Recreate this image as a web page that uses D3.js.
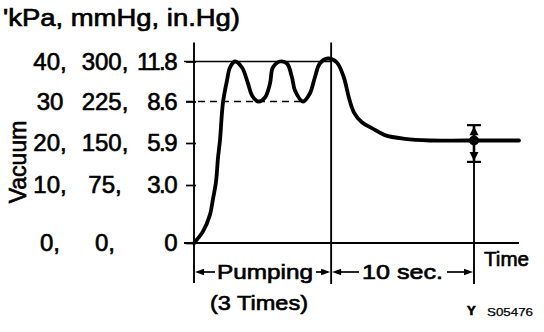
<!DOCTYPE html>
<html><head><meta charset="utf-8">
<script src="https://cdn.jsdelivr.net/npm/d3@7/dist/d3.min.js"></script>
<style>
html,body{margin:0;padding:0;background:#fff;}
svg{display:block;}
text{font-family:"Liberation Sans",Arial,Helvetica,sans-serif;fill:#000;stroke:#000;stroke-width:0.65px;}
</style></head><body>
<svg id="c" width="544" height="332"></svg>
<script>
// ---- data ----
const tickKPa = [0, 10, 20, 30, 40];
const tickKPaLabel = ["0,", "10,", "20,", "30", "40,"];
const tickMmHgLabel = ["0,", "75,", "150,", "225,", "300,"];
const tickInHgLabel = ["0", "3.0", "5.9", "8.6", "11.8"];

// vacuum trace: time (s) vs vacuum (kPa)
const curveTime = [0, 0.63, 1.12, 1.33, 1.54, 1.68, 1.82, 2.03, 2.31, 2.52, 2.87,
  3.36, 3.78, 4.06, 4.48, 4.97, 5.32, 5.52, 6.02, 6.51, 6.86, 7.07, 7.63,
  8.11, 8.46, 8.81, 9.37, 10.0, 10.49, 10.84, 11.19, 11.75, 12.45, 13.36,
  14.76, 16.5, 19.0, 22.75];
const curveVacuum = [0, 2.0, 4.9, 7.6, 10.75, 16.5, 20.7, 29.8, 35.25, 38.5, 40,
  38.5, 34.5, 31.5, 30, 31, 34.5, 38.5, 40, 39.5, 36, 32.75, 30,
  32, 36, 39.5, 40.75, 39.75, 36, 31, 27.4, 25, 23.6, 21.9,
  21.0, 20.6, 20.6, 20.6];

const pumpEnd = 9.6;        // end of 3 pumps (s)
const waitEnd = 19.6;       // pumpEnd + 10 s
const timeMax = 22.75;
const upperLimit = 40;      // kPa
const lowerLimit = 30;      // kPa
const lastDipTime = 7.63;
const settleValue = 20.6;
const settleRange = [15.5, 24.3];

// ---- scales ----
const x = d3.scaleLinear().domain([0, timeMax]).range([194, 519]);
const y = d3.scaleLinear().domain(tickKPa).range([243, 185, 143, 101.5, 61.5]);

const svg = d3.select("#c");

// axis ticks via d3.axisLeft
const yAxis = d3.axisLeft(y).tickValues(tickKPa).tickSizeInner(10).tickSizeOuter(0).tickFormat("");
const gA = svg.append("g").attr("transform", `translate(${x(0)+2},0)`).call(yAxis);
gA.select(".domain").remove();
gA.selectAll(".tick line").attr("stroke", "#000").attr("stroke-width", 1.7);

// vertical reference lines
svg.append("line").attr("x1", x(0)).attr("x2", x(0)).attr("y1", y(40) - 19).attr("y2", y(0) + 40)
  .attr("stroke", "#000").attr("stroke-width", 1.9);
svg.append("line").attr("x1", x(pumpEnd)).attr("x2", x(pumpEnd)).attr("y1", y(40) - 19).attr("y2", y(0) + 41)
  .attr("stroke", "#000").attr("stroke-width", 1.9);
svg.append("line").attr("x1", x(waitEnd)).attr("x2", x(waitEnd)).attr("y1", y(settleRange[1])).attr("y2", y(0) + 41)
  .attr("stroke", "#000").attr("stroke-width", 1.9);

// baseline
svg.append("line").attr("x1", x(0) - 10).attr("x2", x(timeMax)).attr("y1", y(0)).attr("y2", y(0))
  .attr("stroke", "#000").attr("stroke-width", 2.2);

// upper limit solid line, lower limit dashed line
svg.append("line").attr("x1", x(0) - 10).attr("x2", x(pumpEnd)).attr("y1", y(upperLimit)).attr("y2", y(upperLimit))
  .attr("stroke", "#000").attr("stroke-width", 1.7);
svg.append("line").attr("x1", x(0) - 8).attr("x2", x(lastDipTime)).attr("y1", y(lowerLimit)).attr("y2", y(lowerLimit))
  .attr("stroke", "#000").attr("stroke-width", 1.3).attr("stroke-dasharray", "7,5");

// curve
const pts = curveTime.map((t, i) => [t, curveVacuum[i]]);
const line = d3.line().x(d => x(d[0])).y(d => y(d[1])).curve(d3.curveCatmullRom.alpha(0.5));
svg.append("path").attr("d", line(pts)).attr("fill", "none").attr("stroke", "#000")
  .attr("stroke-width", 3.8).attr("stroke-linejoin", "round").attr("stroke-linecap", "round");

// settle tolerance bar
const ex = x(waitEnd);
[settleRange[0], settleRange[1]].forEach(v => {
  svg.append("line").attr("x1", ex - 7).attr("x2", ex + 7).attr("y1", y(v)).attr("y2", y(v))
    .attr("stroke", "#000").attr("stroke-width", 2.2);
});
const yTop = y(settleRange[1]), yBot = y(settleRange[0]);
svg.append("path").attr("d", `M${ex},${yTop+1}L${ex-4.5},${yTop+10}L${ex+4.5},${yTop+10}Z`).attr("fill", "#000");
svg.append("path").attr("d", `M${ex},${yBot-1}L${ex-4.5},${yBot-10}L${ex+4.5},${yBot-10}Z`).attr("fill", "#000");
svg.append("line").attr("x1", ex).attr("x2", ex).attr("y1", yTop).attr("y2", yBot).attr("stroke", "#000").attr("stroke-width", 2.6);
svg.append("circle").attr("cx", ex).attr("cy", y(settleValue)).attr("r", 5).attr("fill", "#000");

// y labels (three unit columns)
const labG = svg.append("g").attr("font-size", 24);
tickKPa.forEach((v, i) => {
  const yy = y(v) + 8;
  labG.append("text").attr("x", 50).attr("y", yy).attr("text-anchor", "middle").text(tickKPaLabel[i]);
  labG.append("text").attr("x", 105).attr("y", yy).attr("text-anchor", "middle").text(tickMmHgLabel[i]);
  labG.append("text").attr("x", 176).attr("y", yy).attr("text-anchor", "end")
    .attr("letter-spacing", -1.5).text(tickInHgLabel[i]);
});

// title / axis title
svg.append("text").attr("x", 3).attr("y", 26).attr("font-size", 23)
  .attr("textLength", 237).attr("lengthAdjust", "spacingAndGlyphs").text("'kPa, mmHg, in.Hg)");
svg.append("text").attr("transform", "translate(26,162) rotate(-90)").attr("text-anchor", "middle")
  .attr("font-size", 23).text("Vacuum");

// bottom annotations
const ann = svg.append("g").attr("font-size", 21);
ann.append("text").attr("x", 217).attr("y", 279).attr("textLength", 96).attr("lengthAdjust", "spacingAndGlyphs").text("Pumping");
ann.append("text").attr("x", 210).attr("y", 310).attr("textLength", 98).attr("lengthAdjust", "spacingAndGlyphs").text("(3 Times)");
ann.append("text").attr("x", 362).attr("y", 279).attr("textLength", 81).attr("lengthAdjust", "spacingAndGlyphs").text("10 sec.");
ann.append("text").attr("x", 484).attr("y", 266).attr("textLength", 45).attr("lengthAdjust", "spacingAndGlyphs").text("Time");
svg.append("text").attr("x", 467).attr("y", 315).attr("font-size", 13).attr("font-weight", "bold").text("Y");
svg.append("text").attr("x", 487).attr("y", 316).attr("font-size", 11).style("stroke-width", "0.25px")
  .attr("textLength", 46).attr("lengthAdjust", "spacingAndGlyphs").text("S05476");

// arrows
function arrow(x1, x2, yy) {
  const dir = Math.sign(x2 - x1);
  svg.append("line").attr("x1", x1).attr("x2", x2 - dir * 6).attr("y1", yy).attr("y2", yy)
    .attr("stroke", "#000").attr("stroke-width", 1.7);
  svg.append("path").attr("d", `M${x2},${yy}L${x2 - dir * 9},${yy - 3.3}L${x2 - dir * 9},${yy + 3.3}Z`).attr("fill", "#000");
}
arrow(215, x(0) + 1, 272);
arrow(316, x(pumpEnd) - 1, 272);
arrow(359, x(pumpEnd) + 1, 272);
arrow(447, x(waitEnd) - 1, 272);
</script>
</body></html>
